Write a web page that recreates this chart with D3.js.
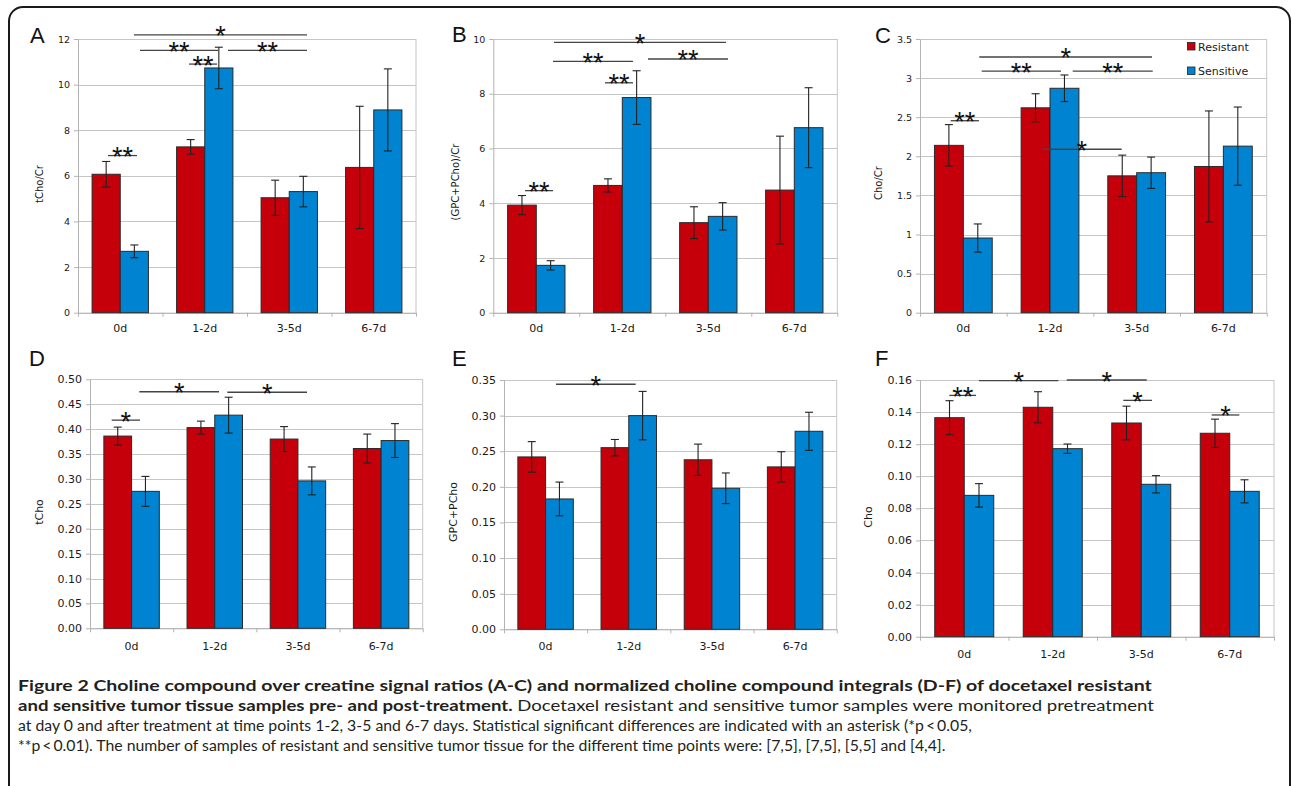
<!DOCTYPE html>
<html>
<head>
<meta charset="utf-8">
<script src="https://cdn.jsdelivr.net/npm/d3@7"></script>
<style>
  html, body { margin: 0; padding: 0; background: #fff; }
  svg { display: block; }
</style>
</head>
<body>
<script>
// ---------------- DATA ----------------
const categories = ["0d", "1-2d", "3-5d", "6-7d"];
const series = ["Resistant", "Sensitive"];

// Panel A: tCho/Cr
const aRes = [6.07, 7.27, 5.04, 6.37];
const aResErr = [0.56, 0.32, 0.77, 2.68];
const aSen = [2.69, 10.73, 5.31, 8.89];
const aSenErr = [0.28, 0.91, 0.67, 1.80];
const aTicks = [0, 2, 4, 6, 8, 10, 12];

// Panel B: (GPC+PCho)/Cr
const bRes = [3.93, 4.65, 3.29, 4.48];
const bResErr = [0.35, 0.24, 0.58, 1.97];
const bSen = [1.73, 7.86, 3.52, 6.76];
const bSenErr = [0.17, 0.98, 0.50, 1.46];
const bTicks = [0, 2, 4, 6, 8, 10];

// Panel C: Cho/Cr
const cRes = [2.14, 2.62, 1.75, 1.87];
const cResErr = [0.265, 0.18, 0.265, 0.71];
const cSen = [0.955, 2.87, 1.79, 2.13];
const cSenErr = [0.18, 0.17, 0.20, 0.50];
const cTicks = [0, 0.5, 1, 1.5, 2, 2.5, 3, 3.5];

// Panel D: tCho
const dRes = [0.386, 0.403, 0.380, 0.361];
const dResErr = [0.018, 0.013, 0.025, 0.029];
const dSen = [0.275, 0.428, 0.296, 0.377];
const dSenErr = [0.030, 0.036, 0.028, 0.034];
const dTicks = [0, 0.05, 0.10, 0.15, 0.20, 0.25, 0.30, 0.35, 0.40, 0.45, 0.50];

// Panel E: GPC+PCho
const eRes = [0.242, 0.255, 0.238, 0.228];
const eResErr = [0.0215, 0.0115, 0.022, 0.0213];
const eSen = [0.183, 0.300, 0.198, 0.278];
const eSenErr = [0.0237, 0.034, 0.0215, 0.0267];
const eTicks = [0, 0.05, 0.10, 0.15, 0.20, 0.25, 0.30, 0.35];

// Panel F: Cho
const fRes = [0.1365, 0.143, 0.1332, 0.1268];
const fResErr = [0.0106, 0.0097, 0.0105, 0.0088];
const fSen = [0.0881, 0.1172, 0.095, 0.0906];
const fSenErr = [0.0073, 0.0029, 0.0054, 0.0072];
const fTicks = [0, 0.02, 0.04, 0.06, 0.08, 0.10, 0.12, 0.14, 0.16];

// significance brackets: [from, to] in category units (0..4), level in data units, label
const aSig = [[0.355, 0.698, 6.89, "**"], [1.314, 1.645, 10.9, "**"], [0.734, 1.657, 11.5, "**"], [1.775, 2.71, 11.5, "**"], [0.663, 2.71, 12.18, "*"]];
const bSig = [[0.369, 0.694, 4.46, "**"], [1.299, 1.624, 8.4, "**"], [0.694, 1.624, 9.18, "**"], [1.799, 2.729, 9.27, "**"], [0.706, 2.706, 9.88, "*"]];
const cSig = [[0.354, 0.681, 2.455, "**"], [0.712, 1.627, 3.09, "**"], [1.762, 2.685, 3.09, "**"], [0.684, 2.677, 3.27, "*"], [1.404, 2.327, 2.09, "*"]];
const dSig = [[0.261, 0.601, 0.418, "*"], [0.593, 1.551, 0.475, "*"], [1.651, 2.609, 0.474, "*"]];
const eSig = [[0.625, 1.583, 0.344, "*"]];
const fSig = [[0.331, 0.633, 0.1504, "**"], [0.667, 1.563, 0.1596, "*"], [1.658, 2.562, 0.16, "*"], [2.297, 2.621, 0.1473, "*"], [3.296, 3.608, 0.1382, "*"]];

const captionLines = [
  [["Figure 2 Choline compound over creatine signal ratios (A-C) and normalized choline compound integrals (D-F) of docetaxel resistant", true]],
  [["and sensitive tumor tissue samples pre- and post-treatment.", true], [" Docetaxel resistant and sensitive tumor samples were monitored pretreatment", false]],
  [["at day 0 and after treatment at time points 1-2, 3-5 and 6-7 days. Statistical significant differences are indicated with an asterisk (*p\u2009<\u20090.05,", false]],
  [["**p\u2009<\u20090.01). The number of samples of resistant and sensitive tumor tissue for the different time points were: [7,5], [7,5], [5,5] and [4,4].", false]]
];

// ---------------- LAYOUT ----------------
const colors = { Resistant: "#C5000B", Sensitive: "#0084D1" };
const panels = [
  { letter: "A", title: "tCho/Cr", res: aRes, resErr: aResErr, sen: aSen, senErr: aSenErr, ticks: aTicks, fmt: d3.format("d"), sig: aSig,
    x0: 78, x1: 416, y0: 39, y1: 312.7, lx: 30, ly: 43, tx: 43, ty: 184, tickFs: 9.5, titleFs: 10, xlabY: 331.5, legend: false },
  { letter: "B", title: "(GPC+PCho)/Cr", res: bRes, resErr: bResErr, sen: bSen, senErr: bSenErr, ticks: bTicks, fmt: d3.format("d"), sig: bSig,
    x0: 493.3, x1: 837.3, y0: 39, y1: 312.7, lx: 452, ly: 42, tx: 459, ty: 182, tickFs: 9.5, titleFs: 10, xlabY: 331.5, legend: false },
  { letter: "C", title: "Cho/Cr", res: cRes, resErr: cResErr, sen: cSen, senErr: cSenErr, ticks: cTicks, fmt: d3.format("~g"), sig: cSig,
    x0: 920, x1: 1266.7, y0: 39, y1: 312.7, lx: 875, ly: 43, tx: 882, ty: 183, tickFs: 9.5, titleFs: 10, xlabY: 331.5, legend: true },
  { letter: "D", title: "tCho", res: dRes, resErr: dResErr, sen: dSen, senErr: dSenErr, ticks: dTicks, fmt: d3.format(".2f"), sig: dSig,
    x0: 90, x1: 422.7, y0: 379.3, y1: 628.3, lx: 29, ly: 366, tx: 43, ty: 512, tickFs: 11, titleFs: 11, xlabY: 650, legend: false },
  { letter: "E", title: "GPC+PCho", res: eRes, resErr: eResErr, sen: eSen, senErr: eSenErr, ticks: eTicks, fmt: d3.format(".2f"), sig: eSig,
    x0: 504, x1: 836.7, y0: 380, y1: 629.3, lx: 452, ly: 366, tx: 457, ty: 512, tickFs: 11, titleFs: 11, xlabY: 649.5, legend: false },
  { letter: "F", title: "Cho", res: fRes, resErr: fResErr, sen: fSen, senErr: fSenErr, ticks: fTicks, fmt: d3.format(".2f"), sig: fSig,
    x0: 920, x1: 1274, y0: 380, y1: 636.7, lx: 875, ly: 366, tx: 872, ty: 517, tickFs: 11, titleFs: 11, xlabY: 658, legend: false }
];

const W = 1292, H = 786;
const chartFont = "'DejaVu Sans', sans-serif";
const svg = d3.select("body").append("svg").attr("width", W).attr("height", H);
svg.append("rect").attr("width", W).attr("height", H).attr("fill", "#fff");

// outer rounded frame
svg.append("rect").attr("x", 9).attr("y", 7).attr("width", 1281).attr("height", 1000)
  .attr("rx", 14).attr("fill", "none").attr("stroke", "#1a1a1a").attr("stroke-width", 2);

function drawPanel(p) {
  const g = svg.append("g");
  const x = d3.scaleBand().domain(categories).range([p.x0, p.x1]);
  const bw = x.bandwidth();
  const xs = d3.scaleBand().domain(series).range([bw / 6, bw * 5 / 6]);
  const xu = d3.scaleLinear().domain([0, categories.length]).range([p.x0, p.x1]);
  const y = d3.scaleLinear().domain([0, p.ticks[p.ticks.length - 1]]).range([p.y1, p.y0]);

  // gridlines
  g.append("g").selectAll("line").data(p.ticks).join("line")
    .attr("x1", p.x0).attr("x2", p.x1)
    .attr("y1", d => Math.round(y(d)) + 0.5).attr("y2", d => Math.round(y(d)) + 0.5)
    .attr("stroke", "#c6c6c6").attr("stroke-width", 1);
  // right border
  g.append("line").attr("x1", p.x1).attr("x2", p.x1).attr("y1", p.y0).attr("y2", p.y1)
    .attr("stroke", "#c6c6c6");

  // y axis
  const ya = g.append("g").attr("transform", `translate(${p.x0},0)`)
    .call(d3.axisLeft(y).tickValues(p.ticks).tickFormat(p.fmt).tickSize(4).tickSizeOuter(0).tickPadding(4));
  ya.select(".domain").attr("stroke", "#b3b3b3");
  ya.selectAll(".tick line").attr("stroke", "#b3b3b3");
  ya.selectAll(".tick text").attr("font-family", chartFont).attr("font-size", p.tickFs).attr("fill", "#1a1a1a");

  // x axis: boundary ticks
  const xa = g.append("g").attr("transform", `translate(0,${p.y1})`)
    .call(d3.axisBottom(xu).tickValues(d3.range(0, categories.length + 1)).tickFormat("").tickSize(4).tickSizeOuter(0));
  xa.select(".domain").attr("stroke", "#b3b3b3");
  xa.selectAll(".tick line").attr("stroke", "#b3b3b3");
  // x labels
  g.append("g").selectAll("text").data(categories).join("text")
    .attr("x", d => x(d) + bw / 2).attr("y", p.xlabY)
    .attr("text-anchor", "middle").attr("font-family", chartFont).attr("font-size", 11)
    .attr("fill", "#1a1a1a").text(d => d);

  // bars
  const rows = [];
  categories.forEach((c, i) => {
    rows.push({ c, s: "Resistant", v: p.res[i], e: p.resErr[i] });
    rows.push({ c, s: "Sensitive", v: p.sen[i], e: p.senErr[i] });
  });
  g.append("g").selectAll("rect").data(rows).join("rect")
    .attr("x", d => x(d.c) + xs(d.s)).attr("width", xs.bandwidth())
    .attr("y", d => y(d.v)).attr("height", d => y(0) - y(d.v))
    .attr("fill", d => colors[d.s]).attr("stroke", "#2a2a2a").attr("stroke-width", 1);

  // error bars
  const eb = g.append("g").attr("stroke", "#222").attr("stroke-width", 1.1);
  const cx = d => x(d.c) + xs(d.s) + xs.bandwidth() / 2;
  eb.selectAll(".v").data(rows).join("line")
    .attr("x1", cx).attr("x2", cx).attr("y1", d => y(d.v + d.e)).attr("y2", d => y(d.v - d.e));
  eb.selectAll(".t").data(rows).join("line")
    .attr("x1", d => cx(d) - 4).attr("x2", d => cx(d) + 4).attr("y1", d => y(d.v + d.e)).attr("y2", d => y(d.v + d.e));
  eb.selectAll(".b").data(rows).join("line")
    .attr("x1", d => cx(d) - 4).attr("x2", d => cx(d) + 4).attr("y1", d => y(d.v - d.e)).attr("y2", d => y(d.v - d.e));

  // significance brackets
  const sg = g.append("g");
  sg.selectAll("line").data(p.sig).join("line")
    .attr("x1", d => xu(d[0])).attr("x2", d => xu(d[1]))
    .attr("y1", d => y(d[2])).attr("y2", d => y(d[2]))
    .attr("stroke", "#444").attr("stroke-width", 1.3);
  sg.selectAll("text").data(p.sig).join("text")
    .attr("x", d => (xu(d[0]) + xu(d[1])) / 2).attr("y", d => y(d[2]) + 10.5)
    .attr("text-anchor", "middle").attr("font-family", "'Liberation Sans', Arial, sans-serif")
    .attr("font-size", 27).attr("fill", "#111").text(d => d[3]);

  // panel letter
  g.append("text").attr("x", p.lx).attr("y", p.ly).attr("font-family", "'Liberation Sans', Arial, sans-serif")
    .attr("font-size", 22).attr("fill", "#111").text(p.letter);

  // y title
  g.append("text").attr("transform", `translate(${p.tx},${p.ty}) rotate(-90)`)
    .attr("text-anchor", "middle").attr("font-family", chartFont).attr("font-size", p.titleFs)
    .attr("fill", "#1a1a1a").text(p.title);

  // legend
  if (p.legend) {
    const lg = g.append("g");
    series.forEach((s, i) => {
      lg.append("rect").attr("x", 1187.5).attr("y", 42.5 + i * 24.5).attr("width", 7.5).attr("height", 7.5)
        .attr("fill", colors[s]).attr("stroke", "#222").attr("stroke-width", 0.8);
      lg.append("text").attr("x", 1198).attr("y", 50.5 + i * 24.5).attr("font-family", chartFont)
        .attr("font-size", 11).attr("fill", "#1a1a1a").text(s);
    });
  }
}

panels.forEach(drawPanel);

// ---------------- CAPTION ----------------
const capFont = "Lato, 'Open Sans', sans-serif";
const capFs = 15;
const capX = 18;
const capY = [691, 711, 731, 751];
const capTargets = [1135, 1137, 955, null];

let lastScale = 1;
captionLines.forEach((line, i) => {
  const t = svg.append("text")
    .attr("font-family", capFont).attr("font-size", capFs).attr("fill", "#231f20");
  line.forEach(([s, bold]) => {
    t.append("tspan").attr("font-weight", bold ? "bold" : "normal").text(s);
  });
  const w = t.node().getComputedTextLength();
  const sx = capTargets[i] ? capTargets[i] / w : lastScale;
  lastScale = sx;
  t.attr("transform", `translate(${capX},${capY[i]}) scale(${sx},1)`);
});
</script>
</body>
</html>
